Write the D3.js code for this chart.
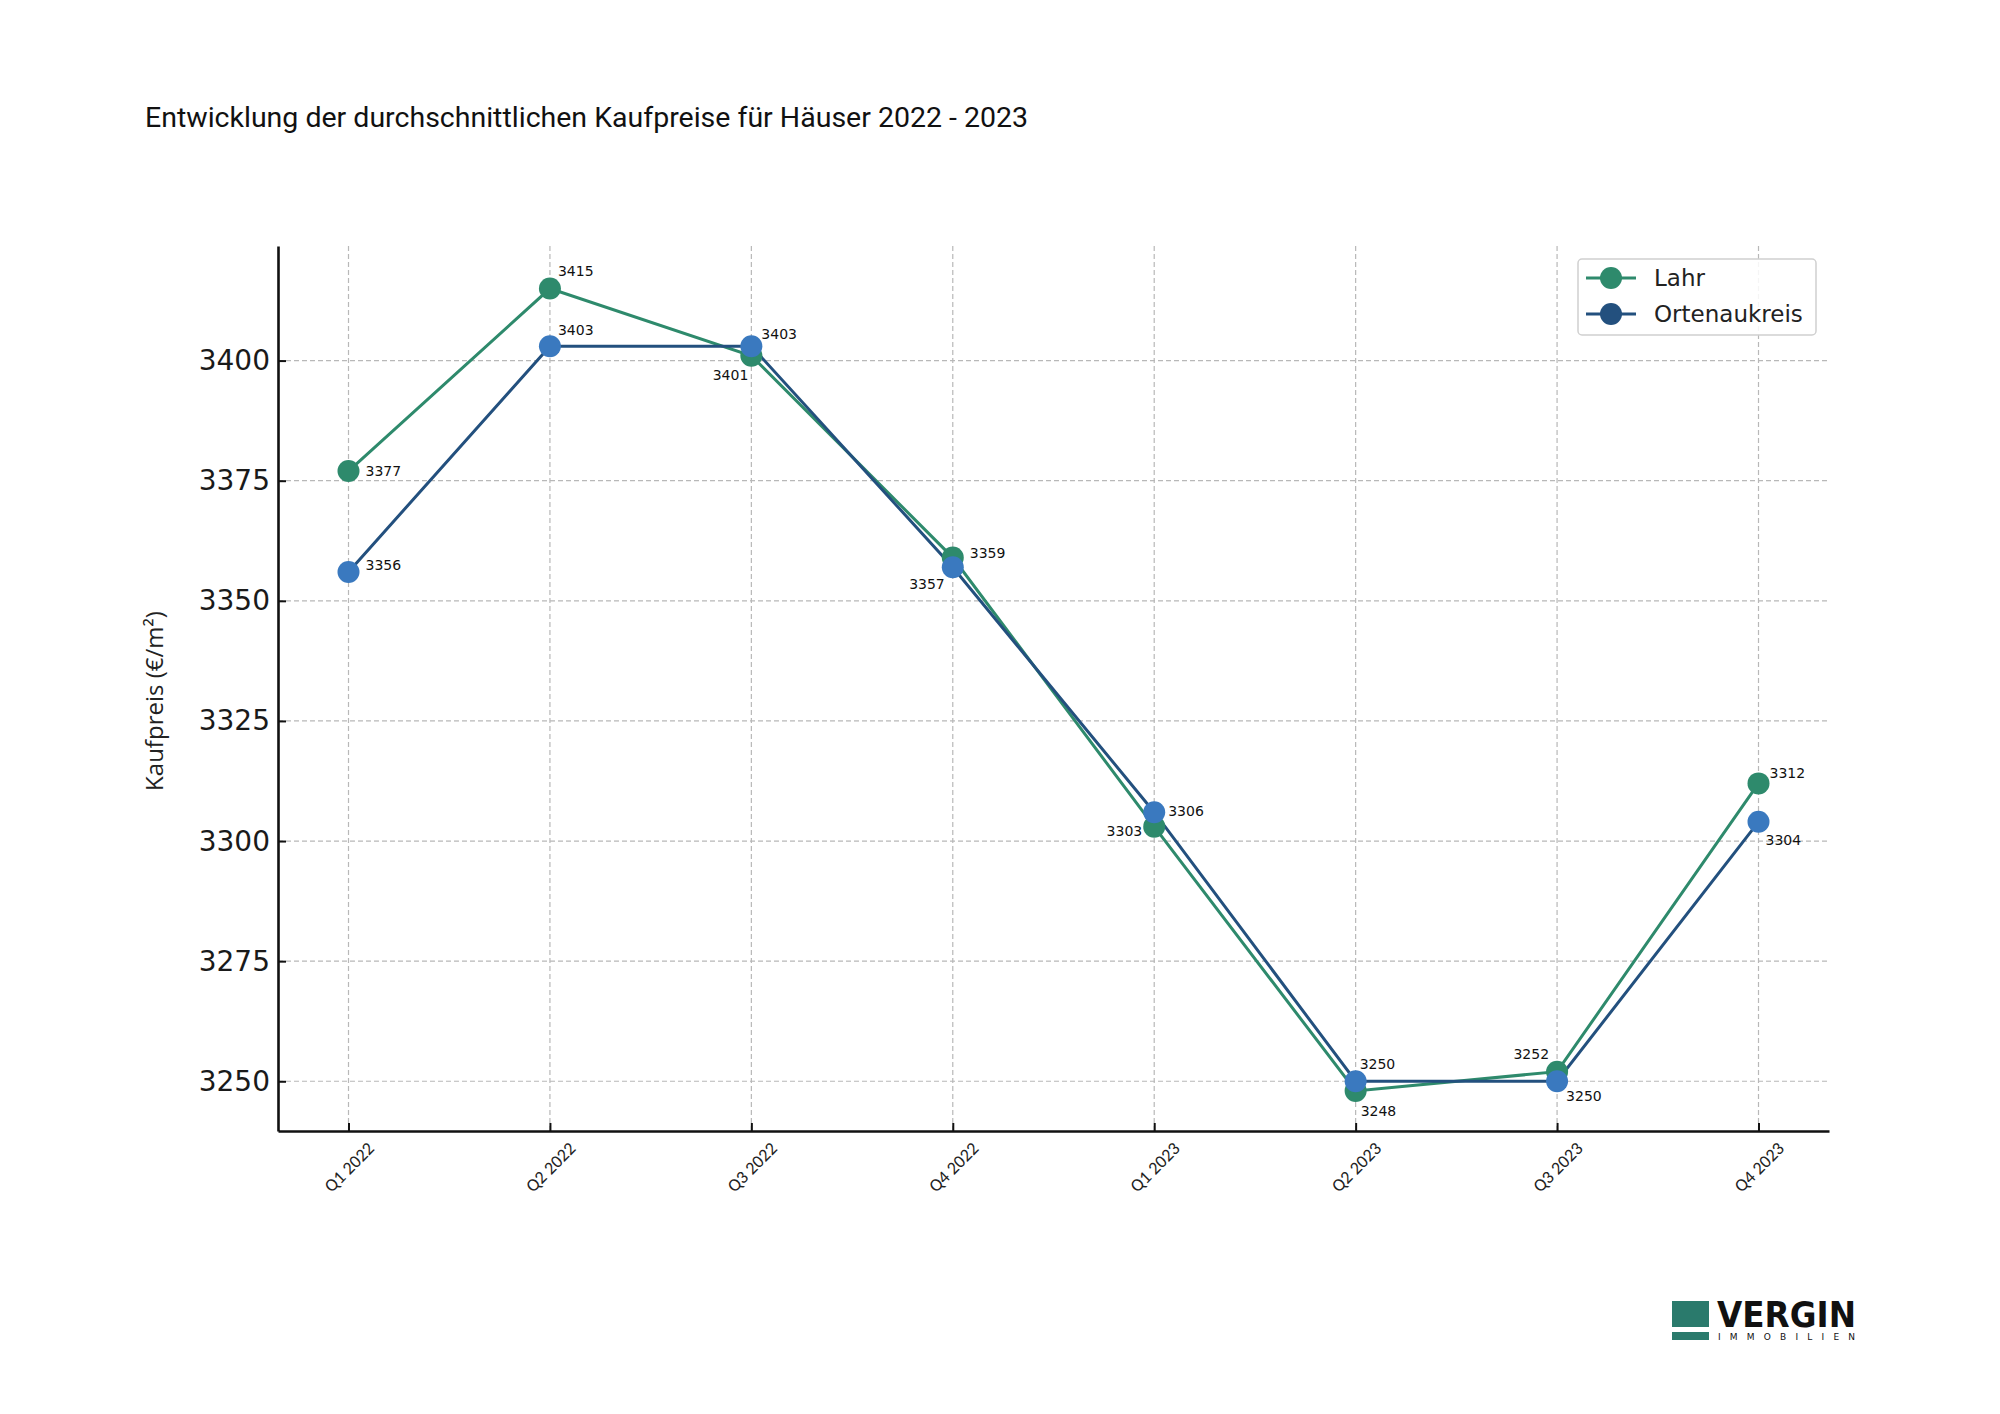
<!DOCTYPE html>
<html>
<head>
<meta charset="utf-8">
<script src="https://cdn.jsdelivr.net/npm/d3@7"></script>
<style>
  html, body { margin: 0; padding: 0; background: #fff; overflow: hidden; }
  svg { display: block; }
  .grid line { stroke: #b8b8b8; stroke-dasharray: 5,3; stroke-width: 1.2; }
</style>
</head>
<body>
<div id="chart"></div>
<script>
// Chart data
const quarters = ['Q1 2022', 'Q2 2022', 'Q3 2022', 'Q4 2022', 'Q1 2023', 'Q2 2023', 'Q3 2023', 'Q4 2023'];
const lahr = [3377, 3415, 3401, 3359, 3303, 3248, 3252, 3312];
const ortenau = [3356, 3403, 3403, 3357, 3306, 3250, 3250, 3304];
const yTicks = [3250, 3275, 3300, 3325, 3350, 3375, 3400];

// label offsets (px) for the value annotations
const lahrLabelOffsets = [[17, 5], [8, -13], [-3, 24], [17, 0], [-12, 9], [5, 25], [-8, -13], [11, -5]];
const ortenauLabelOffsets = [[17, -2], [8, -11], [10, -7], [-8, 22], [14, 4], [4, -12], [9, 20], [7, 23]];

const width = 2000;
const height = 1414;
const margin = { top: 246, right: 171, bottom: 283, left: 278 };
const innerWidth = width - margin.left - margin.right;
const innerHeight = height - margin.top - margin.bottom;

const lahrColor = '#2e8a6c';
const ortLine = '#23507e';
const ortMarker = '#3a79bf';

const svg = d3.select('#chart')
    .append('svg')
    .attr('width', width)
    .attr('height', height);

const g = svg.append('g')
    .attr('transform', `translate(${margin.left},${margin.top})`);

// Scales (matplotlib-style 5% margins)
const xScale = d3.scaleLinear()
    .domain([-0.35, quarters.length - 1 + 0.35])
    .range([0, innerWidth]);

const allVals = lahr.concat(ortenau);
const yMin = d3.min(allVals), yMax = d3.max(allVals);
const pad = (yMax - yMin) * 0.05;
const yScale = d3.scaleLinear()
    .domain([yMin - pad, yMax + pad + 0.5])
    .range([innerHeight, 0]);

// Grid
g.append('g')
    .attr('class', 'grid')
    .selectAll('line')
    .data(yTicks)
    .join('line')
    .attr('x1', 0)
    .attr('x2', innerWidth)
    .attr('y1', d => yScale(d))
    .attr('y2', d => yScale(d));

g.append('g')
    .attr('class', 'grid')
    .selectAll('line')
    .data(quarters)
    .join('line')
    .attr('x1', (d, i) => xScale(i))
    .attr('x2', (d, i) => xScale(i))
    .attr('y1', 0)
    .attr('y2', innerHeight);

// Axes
const xAxis = d3.axisBottom(xScale)
    .tickValues(d3.range(quarters.length))
    .tickFormat(i => quarters[i])
    .tickSize(-8)
    .tickSizeOuter(0);

const yAxis = d3.axisLeft(yScale)
    .tickValues(yTicks)
    .tickFormat(d3.format('d'))
    .tickSize(-8)
    .tickSizeOuter(0);

const xg = g.append('g')
    .attr('transform', `translate(0,${innerHeight})`)
    .call(xAxis);
xg.select('.domain').attr('stroke', '#111').attr('stroke-width', 2.6);
xg.selectAll('.tick line').attr('stroke', '#111').attr('stroke-width', 2);
xg.selectAll('.tick text')
    .attr('font-family', 'Carlito, "Liberation Sans", sans-serif')
    .attr('font-size', 18)
    .attr('fill', '#222')
    .attr('text-anchor', 'middle')
    .attr('transform', 'translate(0,36) rotate(-45)')
    .attr('dy', '0.35em')
    .attr('y', 0);

const yg = g.append('g').call(yAxis);
yg.select('.domain').attr('stroke', '#111').attr('stroke-width', 2.6);
yg.selectAll('.tick line').attr('stroke', '#111').attr('stroke-width', 2);
yg.selectAll('.tick text')
    .attr('font-family', '"DejaVu Sans", sans-serif')
    .attr('font-size', 28)
    .attr('fill', '#1a1a1a')
    .attr('x', -8);

// Axis label
svg.append('text')
    .attr('transform', 'translate(163,701) rotate(-90)')
    .attr('text-anchor', 'middle')
    .attr('font-family', '"Open Sans", sans-serif')
    .attr('font-size', 24)
    .attr('fill', '#222')
    .text('Kaufpreis (€/m²)');

// Title
svg.append('text')
    .attr('x', 145)
    .attr('y', 127)
    .attr('font-family', 'Roboto, sans-serif')
    .attr('font-size', 28.5)
    .attr('fill', '#111')
    .text('Entwicklung der durchschnittlichen Kaufpreise für Häuser 2022 - 2023');

// Lines
const line = d3.line()
    .x((d, i) => xScale(i))
    .y(d => yScale(d));

const series = [
    { name: 'Lahr', values: lahr, line: lahrColor, marker: lahrColor, offsets: lahrLabelOffsets },
    { name: 'Ortenaukreis', values: ortenau, line: ortLine, marker: ortMarker, offsets: ortenauLabelOffsets }
];

series.forEach(s => {
    g.append('path')
        .datum(s.values)
        .attr('d', line)
        .style('fill', 'none')
        .style('stroke', s.line)
        .style('stroke-width', 3);
});

series.forEach(s => {
    g.append('g')
        .selectAll('circle')
        .data(s.values)
        .join('circle')
        .attr('cx', (d, i) => xScale(i))
        .attr('cy', d => yScale(d))
        .attr('r', 11)
        .style('fill', s.marker);
});

// Value labels
series.forEach(s => {
    g.append('g')
        .selectAll('text')
        .data(s.values)
        .join('text')
        .attr('x', (d, i) => xScale(i) + s.offsets[i][0])
        .attr('y', (d, i) => yScale(d) + s.offsets[i][1])
        .attr('text-anchor', (d, i) => s.offsets[i][0] < 0 ? 'end' : 'start')
        .attr('font-family', '"DejaVu Sans", sans-serif')
        .attr('font-size', 14)
        .attr('fill', '#111')
        .text(d => d);
});

// Legend
const legend = svg.append('g').attr('transform', 'translate(1578,259)');
legend.append('rect')
    .attr('width', 238)
    .attr('height', 76)
    .attr('rx', 4)
    .style('fill', 'rgba(255,255,255,0.85)')
    .style('stroke', '#d0d0d0')
    .style('stroke-width', 1.5);

series.forEach((s, i) => {
    const row = legend.append('g').attr('transform', `translate(0,${19 + i * 36})`);
    row.append('line')
        .attr('x1', 8).attr('x2', 58)
        .style('stroke', s.line)
        .style('stroke-width', 3);
    row.append('circle')
        .attr('cx', 33)
        .attr('r', 11)
        .style('fill', i === 0 ? s.marker : s.line);
    row.append('text')
        .attr('x', 76)
        .attr('dy', '0.35em')
        .attr('font-family', '"DejaVu Sans", sans-serif')
        .attr('font-size', 23)
        .attr('fill', '#222')
        .text(s.name);
});

// Logo
const logo = svg.append('g').attr('transform', 'translate(1672,1301)');
logo.append('rect').attr('width', 37).attr('height', 26).style('fill', '#2a7a6c');
logo.append('rect').attr('y', 31).attr('width', 37).attr('height', 8).style('fill', '#2a7a6c');
logo.append('text')
    .attr('x', 45)
    .attr('y', 26)
    .attr('font-family', '"DejaVu Sans", sans-serif')
    .attr('font-weight', 'bold')
    .attr('font-size', 35)
    .attr('textLength', 139)
    .attr('lengthAdjust', 'spacingAndGlyphs')
    .attr('fill', '#111')
    .text('VERGIN');
logo.append('text')
    .attr('x', 46)
    .attr('y', 39)
    .attr('font-family', '"DejaVu Sans", sans-serif')
    .attr('font-size', 9)
    .attr('textLength', 137)
    .attr('lengthAdjust', 'spacing')
    .attr('fill', '#111')
    .text('IMMOBILIEN');
</script>
</body>
</html>
